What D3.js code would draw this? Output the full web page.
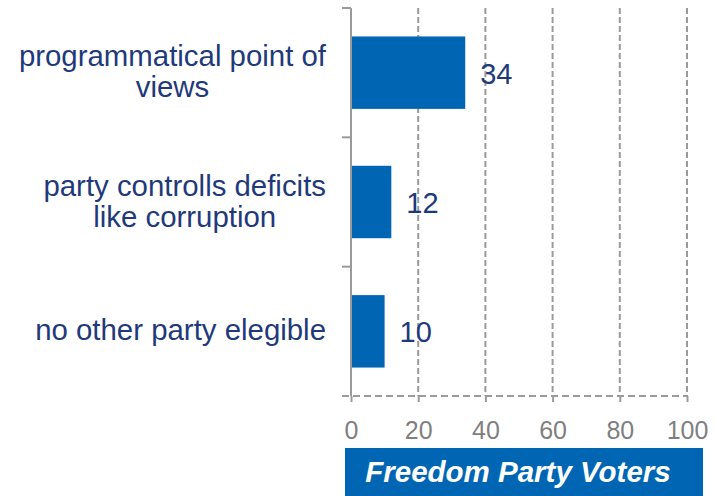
<!DOCTYPE html>
<html>
<head>
<meta charset="utf-8">
<script src="https://cdn.jsdelivr.net/npm/d3@7"></script>
<style>
  html, body { margin: 0; padding: 0; background: #fff; }
  svg { display: block; font-family: Arial, "Liberation Sans", sans-serif; }
</style>
</head>
<body>
<svg id="chart" width="715" height="496"></svg>
<script>
const categories = [
  ["programmatical point of", "views"],
  ["party controlls deficits", "like corruption"],
  ["no other party elegible"]
];
const values = [34, 12, 10];
const tickValues = [0, 20, 40, 60, 80, 100];
const title = "Freedom Party Voters";

(function () {
const svg = d3.select("#chart");
const pLeft = 351, pRight = 687, pTop = 8, pBottom = 396;

const x = d3.scaleLinear().domain([0, 100]).range([pLeft, pRight]);
const y = d3.scaleBand().domain(d3.range(categories.length)).range([pTop, pBottom]).paddingInner(0.44).paddingOuter(0.22);

const gridColor = "#9a9a9a";

// vertical dashed gridlines
svg.append("g").selectAll("line").data(tickValues.slice(1)).join("line")
  .attr("x1", d => x(d)).attr("x2", d => x(d))
  .attr("y1", pTop).attr("y2", pBottom)
  .attr("stroke", gridColor).attr("stroke-width", 2)
  .attr("stroke-dasharray", "6,3");

// x axis: dashed line + ticks
const xAxis = d3.axisBottom(x).tickValues(tickValues).tickSize(6).tickPadding(19).tickFormat(d3.format("d"));
const gx = svg.append("g").attr("transform", `translate(0,${pBottom})`).call(xAxis);
gx.select(".domain").remove();
gx.insert("line", ":first-child")
  .attr("x1", pLeft - 9).attr("x2", pRight).attr("y1", 0).attr("y2", 0)
  .attr("stroke", gridColor).attr("stroke-width", 2).attr("stroke-dasharray", "7,4");
gx.selectAll(".tick line").attr("stroke", gridColor).attr("stroke-width", 2);
gx.selectAll(".tick text").attr("fill", "#7f7f7f").attr("font-size", 25)
  .attr("font-family", "Arial, 'Liberation Sans', sans-serif");

// y axis line with band-boundary ticks
svg.append("line").attr("x1", pLeft).attr("x2", pLeft).attr("y1", pTop).attr("y2", pBottom)
  .attr("stroke", gridColor).attr("stroke-width", 2);
const step = (pBottom - pTop) / categories.length;
svg.append("g").selectAll("line").data(d3.range(categories.length)).join("line")
  .attr("x1", pLeft - 9).attr("x2", pLeft)
  .attr("y1", d => pTop + d * step).attr("y2", d => pTop + d * step)
  .attr("stroke", gridColor).attr("stroke-width", 2);

// bars
svg.append("g").selectAll("rect").data(values).join("rect")
  .attr("x", x(0) + 1).attr("y", (d, i) => y(i))
  .attr("width", d => x(d) - x(0) - 1).attr("height", y.bandwidth())
  .attr("fill", "#0066b3");

// value labels
svg.append("g").selectAll("text").data(values).join("text")
  .attr("x", d => x(d) + 15)
  .attr("y", (d, i) => y(i) + y.bandwidth() / 2 + 11)
  .attr("font-size", 29).attr("fill", "#1f3a7a")
  .text(d => d);

// category labels (centered lines, right-aligned block)
const labelRight = 326, lineH = 31, fs = 29.4;
categories.forEach((lines, i) => {
  const cy = y(i) + y.bandwidth() / 2;
  const g = svg.append("g");
  const texts = lines.map((ln, j) => g.append("text")
    .attr("font-size", fs).attr("fill", "#1f3a7a").attr("text-anchor", "middle")
    .attr("y", cy + 9 + (j - (lines.length - 1) / 2) * lineH)
    .text(ln));
  const maxW = d3.max(texts, t => t.node().getComputedTextLength());
  texts.forEach(t => t.attr("x", labelRight - maxW / 2));
});

// title box
svg.append("rect").attr("x", 345).attr("y", 448).attr("width", 358).attr("height", 48).attr("fill", "#0066b3");
svg.append("text").attr("x", 518).attr("y", 482).attr("text-anchor", "middle")
  .attr("font-size", 29.5).attr("font-weight", "bold").attr("font-style", "italic")
  .attr("fill", "#fff").text(title);
})();
</script>
</body>
</html>
